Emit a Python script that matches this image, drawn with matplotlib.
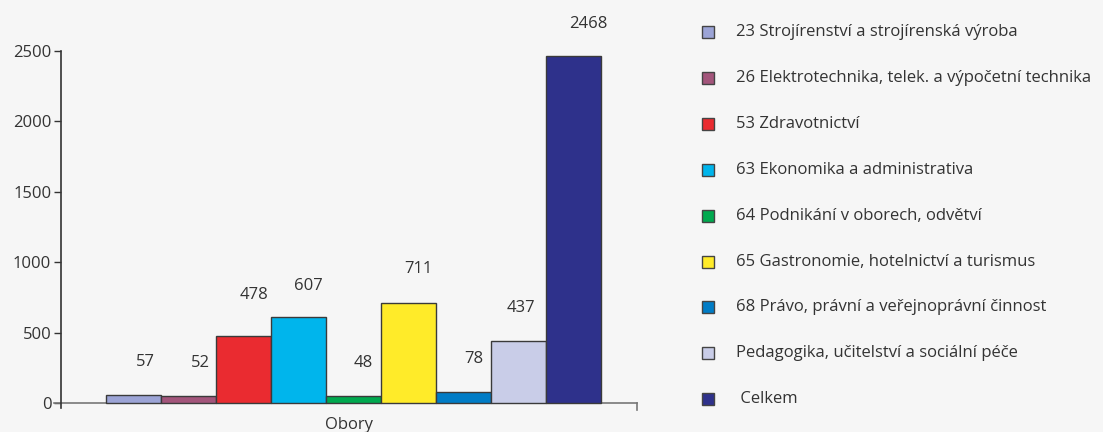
import matplotlib
matplotlib.use("Agg")
import matplotlib.pyplot as plt
from matplotlib.patches import Rectangle

plt.rcParams['font.family'] = ['Open Sans', 'DejaVu Sans']

categories = [
    "23 Strojírenství a strojírenská výroba",
    "26 Elektrotechnika, telek. a výpočetní technika",
    "53 Zdravotnictví",
    "63 Ekonomika a administrativa",
    "64 Podnikání v oborech, odvětví",
    "65 Gastronomie, hotelnictví a turismus",
    "68 Právo, právní a veřejnoprávní činnost",
    "Pedagogika, učitelství a sociální péče",
    " Celkem",
]
values = [57, 52, 478, 607, 48, 711, 78, 437, 2468]
colors = ["#9ca4d6", "#a3557b", "#ea2b30", "#00b5ec", "#00a94f",
          "#ffeb29", "#007cc6", "#c9cde8", "#2e318b"]
yticks = [0, 500, 1000, 1500, 2000, 2500]
xlabel = "Obory"

W, H = 1103, 432
bg = "#f6f6f6"
txt = "#333333"
fig = plt.figure(figsize=(W / 100, H / 100), dpi=100, facecolor=bg)

def fx(px):
    return px / W

def fy(py):
    return 1 - py / H

left, right, top, bottom = 61, 637, 51, 408
ax = fig.add_axes([fx(left), fy(bottom), fx(right - left), (bottom - top) / H])
ax.set_facecolor(bg)

x = list(range(len(values)))
ax.bar(x, values, width=1.0, color=colors, edgecolor="#3a3a3a", linewidth=1.0, zorder=3)

ax.set_xlim(-1.318, 9.155)
ax.set_ylim(-36, 2500)
ax.set_yticks(yticks)
ax.tick_params(axis='y', length=5, width=1, color="#333333", labelsize=12,
               labelcolor=txt, pad=2)
ax.set_xticks([])
for s in ["top", "right", "bottom"]:
    ax.spines[s].set_visible(False)
ax.spines["left"].set_color("#333333")
ax.spines["left"].set_linewidth(1.2)

# x axis baseline and end tick
ax.plot([-1.45, 9.155], [0, 0], color="#777777", linewidth=1.2, clip_on=False, zorder=2)
ax.plot([9.155, 9.155], [0, -50], color="#777777", linewidth=1.2, clip_on=False, zorder=2)

ax.set_xlabel(xlabel, fontsize=12, color=txt, labelpad=4)
ax.xaxis.set_label_coords(0.5, -0.025)

# value labels
offs_y = [33, 33, 41, 31, 33, 34, 33, 33, 32]
offs_x = [12, 12, 11, 10, 10, 10, 10, 2, 15]
for i, v in enumerate(values):
    ax.annotate(str(v), xy=(i, v), xytext=(offs_x[i], offs_y[i]),
                textcoords="offset pixels", ha="center", va="center",
                fontsize=12, color=txt, annotation_clip=False)

# legend (manual)
row0, pitch = 32, 45.9
for i, (lab, c) in enumerate(zip(categories, colors)):
    cy = row0 + i * pitch
    fig.patches.append(Rectangle((fx(702), fy(cy + 6)), fx(12), 12 / H,
                                 transform=fig.transFigure, facecolor=c,
                                 edgecolor="#444444", linewidth=1.0))
    fig.text(fx(736), fy(cy), lab, fontsize=12, color=txt, va="center", ha="left")

fig.savefig("out.png", dpi=100, facecolor=bg)
